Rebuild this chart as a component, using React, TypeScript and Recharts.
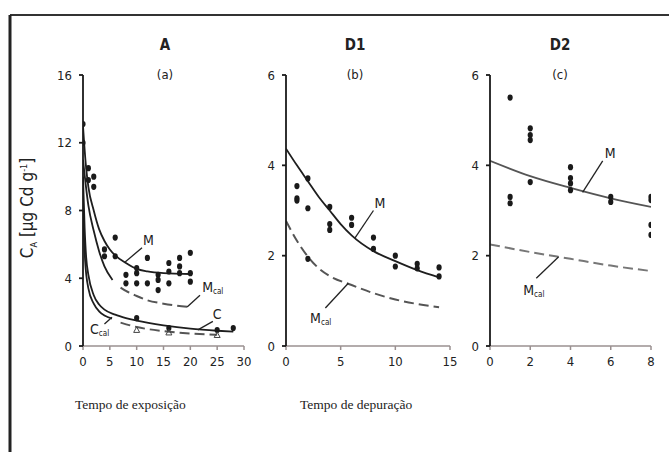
import React from "react";
import { ComposedChart, Line, Scatter, XAxis, YAxis } from "recharts";

// ---- panel A (exposure) ----
const aTicksX = [0, 5, 10, 15, 20, 25, 30];
const aTicksY = [0, 4, 8, 12, 16];
const aObsM = [
  { t: 0, v: 13.1 }, { t: 0, v: 12.0 }, { t: 1, v: 10.5 }, { t: 1, v: 9.8 },
  { t: 2, v: 10.0 }, { t: 2, v: 9.4 }, { t: 4, v: 5.7 }, { t: 4, v: 5.3 },
  { t: 6, v: 6.4 }, { t: 6, v: 5.3 }, { t: 8, v: 4.2 }, { t: 8, v: 3.7 },
  { t: 10, v: 4.6 }, { t: 10, v: 4.3 }, { t: 10, v: 3.7 }, { t: 12, v: 5.2 },
  { t: 12, v: 3.7 }, { t: 14, v: 4.2 }, { t: 14, v: 3.9 }, { t: 14, v: 3.3 },
  { t: 16, v: 4.9 }, { t: 16, v: 4.4 }, { t: 16, v: 3.7 }, { t: 18, v: 5.2 },
  { t: 18, v: 4.7 }, { t: 18, v: 4.3 }, { t: 20, v: 5.5 }, { t: 20, v: 4.3 },
  { t: 20, v: 3.8 },
];
const aObsC = [{ t: 10, v: 1.65 }, { t: 16, v: 1.06 }, { t: 25, v: 0.94 }, { t: 28, v: 1.06 }];
const aObsCcal = [{ t: 10, v: 0.95 }, { t: 16, v: 0.8 }, { t: 25, v: 0.65 }];
const aM = [
  { t: 0, v: 13 }, { t: 0.5, v: 10.8 }, { t: 1, v: 9.4 }, { t: 2, v: 8.0 }, { t: 3, v: 6.9 },
  { t: 4, v: 6.2 }, { t: 5, v: 5.7 }, { t: 6, v: 5.35 }, { t: 8, v: 4.9 }, { t: 10, v: 4.55 },
  { t: 12, v: 4.4 }, { t: 15, v: 4.3 }, { t: 20, v: 4.25 },
];
const aMcalSolid = [
  { t: 0, v: 11 }, { t: 1, v: 8.3 }, { t: 2, v: 6.8 }, { t: 3, v: 5.6 }, { t: 4, v: 4.7 }, { t: 5.5, v: 3.9 },
];
const aMcalDash = [
  { t: 7, v: 3.45 }, { t: 8, v: 3.25 }, { t: 10, v: 2.95 }, { t: 12, v: 2.7 }, { t: 15, v: 2.5 }, { t: 20, v: 2.3 },
];
const aC = [
  { t: 0, v: 10 }, { t: 0.3, v: 7 }, { t: 0.6, v: 5.2 }, { t: 1, v: 4.2 }, { t: 2, v: 3.0 },
  { t: 3, v: 2.45 }, { t: 4, v: 2.15 }, { t: 6, v: 1.85 }, { t: 8, v: 1.65 }, { t: 10, v: 1.5 },
  { t: 15, v: 1.22 }, { t: 20, v: 1.02 }, { t: 25, v: 0.9 }, { t: 28, v: 0.85 },
];
const aCcalSolid = [
  { t: 0, v: 8 }, { t: 0.4, v: 5 }, { t: 1, v: 3.4 }, { t: 2, v: 2.5 }, { t: 3, v: 2.05 },
  { t: 4, v: 1.8 }, { t: 5.4, v: 1.62 },
];
const aCcalDash = [
  { t: 7, v: 1.38 }, { t: 10, v: 1.12 }, { t: 15, v: 0.88 }, { t: 20, v: 0.74 }, { t: 25, v: 0.66 },
];
const aNotes = [
  { text: "M", sub: "", lx: 11.2, ly: 6.25, x1: 11, y1: 5.8, x2: 7.8, y2: 4.95 },
  { text: "M", sub: "cal", lx: 22.2, ly: 3.5, x1: 21.8, y1: 3.0, x2: 19.4, y2: 2.3 },
  { text: "C", sub: "", lx: 24.2, ly: 1.9, x1: 24.2, y1: 1.45, x2: 21.4, y2: 0.95 },
  { text: "C", sub: "cal", lx: 1.3, ly: 1.0, x1: 4.0, y1: 1.3, x2: 5.4, y2: 1.7 },
];

// ---- panel B (depuration D1) ----
const bTicksX = [0, 5, 10, 15];
const bTicksY = [0, 2, 4, 6];
const bObsM = [
  { t: 1, v: 3.54 }, { t: 1, v: 3.27 }, { t: 1, v: 3.22 }, { t: 2, v: 3.71 }, { t: 2, v: 3.05 },
  { t: 2, v: 1.93 }, { t: 4, v: 3.08 }, { t: 4, v: 2.7 }, { t: 4, v: 2.57 }, { t: 6, v: 2.84 },
  { t: 6, v: 2.68 }, { t: 8, v: 2.4 }, { t: 8, v: 2.15 }, { t: 10, v: 2.0 }, { t: 10, v: 1.76 },
  { t: 12, v: 1.82 }, { t: 12, v: 1.72 }, { t: 14, v: 1.74 }, { t: 14, v: 1.54 },
];
const bM = [
  { t: 0, v: 4.37 }, { t: 1, v: 4.0 }, { t: 2, v: 3.65 }, { t: 3, v: 3.3 }, { t: 4, v: 3.0 },
  { t: 5, v: 2.7 }, { t: 6, v: 2.45 }, { t: 8, v: 2.1 }, { t: 10, v: 1.88 }, { t: 12, v: 1.68 },
  { t: 14, v: 1.52 },
];
const bMcal = [
  { t: 0, v: 2.77 }, { t: 1, v: 2.33 }, { t: 2, v: 1.98 }, { t: 3, v: 1.72 }, { t: 4, v: 1.55 },
  { t: 6, v: 1.35 }, { t: 8, v: 1.17 }, { t: 10, v: 1.03 }, { t: 12, v: 0.93 }, { t: 14, v: 0.86 },
];
const bNotes = [
  { text: "M", sub: "", lx: 8.1, ly: 3.16, x1: 8.0, y1: 3.0, x2: 6.3, y2: 2.39 },
  { text: "M", sub: "cal", lx: 2.2, ly: 0.62, x1: 3.6, y1: 0.84, x2: 5.7, y2: 1.39 },
];

// ---- panel C (depuration D2) ----
const cTicksX = [0, 2, 4, 6, 8];
const cTicksY = [0, 2, 4, 6];
const cObsM = [
  { t: 1, v: 5.5 }, { t: 1, v: 3.3 }, { t: 1, v: 3.16 }, { t: 2, v: 4.82 }, { t: 2, v: 4.67 },
  { t: 2, v: 4.56 }, { t: 2, v: 3.63 }, { t: 4, v: 3.96 }, { t: 4, v: 3.72 }, { t: 4, v: 3.6 },
  { t: 4, v: 3.45 }, { t: 6, v: 3.3 }, { t: 6, v: 3.19 }, { t: 8, v: 3.3 }, { t: 8, v: 3.23 },
  { t: 8, v: 2.68 }, { t: 8, v: 2.46 },
];
const cM = [{ t: 0, v: 4.1 }, { t: 2, v: 3.76 }, { t: 4, v: 3.5 }, { t: 6, v: 3.27 }, { t: 8, v: 3.08 }];
const cMcal = [{ t: 0, v: 2.25 }, { t: 2, v: 2.08 }, { t: 4, v: 1.93 }, { t: 6, v: 1.78 }, { t: 8, v: 1.66 }];
const cNotes = [
  { text: "M", sub: "", lx: 5.7, ly: 4.27, x1: 5.6, y1: 4.1, x2: 4.6, y2: 3.4 },
  { text: "M", sub: "cal", lx: 1.65, ly: 1.24, x1: 2.3, y1: 1.5, x2: 3.4, y2: 1.97 },
];

const FONT = "'Liberation Sans Narrow', 'DejaVu Sans Condensed', sans-serif";
const SERIF = "'Liberation Serif', 'DejaVu Serif', serif";

const Dot = (p: any) => <ellipse cx={p.cx} cy={p.cy} rx={2.6} ry={3.1} fill="#1a1a1a" />;
const Tri = (p: any) => (
  <path d={`M${p.cx},${p.cy - 3}L${p.cx + 3},${p.cy + 2.5}L${p.cx - 3},${p.cy + 2.5}Z`} fill="none" stroke="#444" strokeWidth={1} />
);

const noteShape = (n: any) => (p: any) => (
  <text x={p.cx} y={p.cy} fontFamily={FONT} fontSize={14} fill="#222" dominantBaseline="central">
    {n.text}
    {n.sub ? <tspan fontSize={8} dy={4}>{n.sub}</tspan> : null}
  </text>
);

const curve = (data: any[], key: string, dashed = false, color = "#1e1e1e") => (
  <Line
    key={key}
    data={data}
    dataKey="v"
    type="monotone"
    dot={false}
    stroke={color}
    strokeWidth={dashed ? 2 : 1.8}
    strokeDasharray={dashed ? "10 5" : undefined}
    isAnimationActive={false}
  />
);

const notes = (list: any[], pre: string) =>
  list.flatMap((n, i) => [
    <Line
      key={`${pre}l${i}`}
      data={[{ t: n.x1, v: n.y1 }, { t: n.x2, v: n.y2 }]}
      dataKey="v"
      type="linear"
      dot={false}
      stroke="#222"
      strokeWidth={1.3}
      isAnimationActive={false}
    />,
    <Scatter key={`${pre}s${i}`} data={[{ t: n.lx, v: n.ly }]} dataKey="v" shape={noteShape(n)} isAnimationActive={false} />,
  ]);

const Panel = (props: any) => (
  <div style={{ position: "absolute", left: props.left, top: 60 }}>
    <ComposedChart width={props.width} height={320} margin={{ top: 15, right: props.right, bottom: 4, left: 0 }}>
      <XAxis
        type="number"
        dataKey="t"
        domain={[0, props.xMax]}
        ticks={props.xTicks}
        allowDataOverflow
        height={30}
        stroke="#9a9090"
        strokeWidth={1.5}
        tickSize={4}
        tickMargin={7}
        tick={{ fill: "#222", fontSize: 13, fontFamily: FONT }}
      />
      <YAxis
        type="number"
        dataKey="v"
        domain={[0, props.yMax]}
        ticks={props.yTicks}
        allowDataOverflow
        width={props.yWidth}
        stroke="#1a1a1a"
        strokeWidth={1.8}
        tickSize={4}
        tickMargin={7}
        tick={{ fill: "#222", fontSize: 13, fontFamily: FONT }}
      />
      {props.children}
    </ComposedChart>
  </div>
);

export default function App() {
  return (
    <div style={{ position: "absolute", left: 0, top: 0, width: 669, height: 452, background: "#fff", overflow: "hidden" }}>
      <svg width={669} height={452} style={{ position: "absolute", left: 0, top: 0 }}>
        <line x1={10} y1={15} x2={669} y2={15} stroke="#333" strokeWidth={2} />
        <line x1={10} y1={15} x2={10} y2={452} stroke="#222" strokeWidth={3} />
        <g fontFamily={FONT} fill="#222" textAnchor="middle">
          <text x={165} y={50} fontSize={15} fontWeight="bold">A</text>
          <text x={165} y={79} fontSize={13}>(a)</text>
          <text x={355} y={50} fontSize={15} fontWeight="bold">D1</text>
          <text x={355} y={79} fontSize={13}>(b)</text>
          <text x={560} y={50} fontSize={15} fontWeight="bold">D2</text>
          <text x={560} y={79} fontSize={13}>(c)</text>
        </g>
        <text transform="translate(33,208) rotate(-90)" fontFamily={FONT} fontSize={17} fill="#222" textAnchor="middle">
          C<tspan fontSize={9} dy={4}>A</tspan>
          <tspan dy={-4}> [µg Cd g</tspan>
          <tspan fontSize={9} dy={-6}>-1</tspan>
          <tspan dy={6}>]</tspan>
        </text>
        <g fontFamily={SERIF} fontSize={13.5} fill="#222">
          <text x={75} y={409}>Tempo de exposição</text>
          <text x={300} y={409}>Tempo de depuração</text>
        </g>
      </svg>

      <Panel left={40} width={220} right={16} yWidth={43} xMax={30} xTicks={aTicksX} yMax={16} yTicks={aTicksY}>
        {curve(aM, "aM")}
        {curve(aMcalSolid, "aMcs")}
        {curve(aMcalDash, "aMcd", true, "#555")}
        {curve(aC, "aC")}
        {curve(aCcalSolid, "aCcs")}
        {curve(aCcalDash, "aCcd", true, "#555")}
        <Scatter data={aObsM} dataKey="v" shape={Dot} isAnimationActive={false} />
        <Scatter data={aObsC} dataKey="v" shape={Dot} isAnimationActive={false} />
        <Scatter data={aObsCcal} dataKey="v" shape={Tri} isAnimationActive={false} />
        {notes(aNotes, "a")}
      </Panel>

      <Panel left={250} width={215} right={15} yWidth={36} xMax={15} xTicks={bTicksX} yMax={6} yTicks={bTicksY}>
        {curve(bM, "bM")}
        {curve(bMcal, "bMc", true, "#555")}
        <Scatter data={bObsM} dataKey="v" shape={Dot} isAnimationActive={false} />
        {notes(bNotes, "b")}
      </Panel>

      <Panel left={455} width={210} right={14} yWidth={35} xMax={8} xTicks={cTicksX} yMax={6} yTicks={cTicksY}>
        {curve(cM, "cM", false, "#555")}
        {curve(cMcal, "cMc", true, "#777")}
        <Scatter data={cObsM} dataKey="v" shape={Dot} isAnimationActive={false} />
        {notes(cNotes, "c")}
      </Panel>
    </div>
  );
}
